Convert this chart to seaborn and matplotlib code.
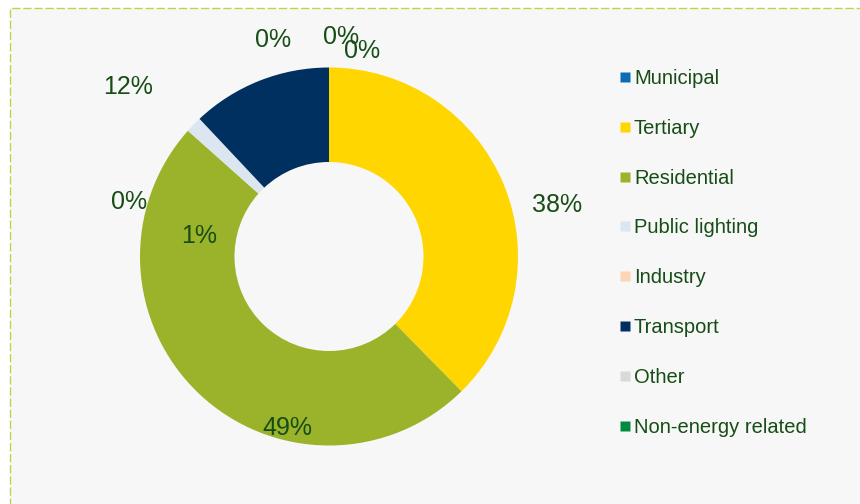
import matplotlib
matplotlib.use("Agg")
import matplotlib.pyplot as plt
from matplotlib.patches import Rectangle
from matplotlib.lines import Line2D
import seaborn as sns

categories = ["Municipal", "Tertiary", "Residential", "Public lighting",
              "Industry", "Transport", "Other", "Non-energy related"]
values = [0.0, 37.6, 48.9, 1.4, 0.0, 12.0, 0.0, 0.0]
colors = ["#0b6cb5", "#ffd600", "#9bb32b", "#dce6f1",
          "#fcd5b5", "#00305f", "#d9d9d9", "#008a3e"]

sns.set_theme(style="white")
plt.rcParams["font.family"] = ["Liberation Sans", "DejaVu Sans"]

TXT = "#164d16"
W, H = 860, 504
fig = plt.figure(figsize=(W / 100, H / 100), dpi=100, facecolor="white")

# background panel with dashed border
bg = Rectangle((10 / W, -0.1), 1.2, 1 - 8 / H + 0.1, transform=fig.transFigure,
               facecolor="#f7f7f7", edgecolor="#b5d945", linewidth=1.0,
               linestyle=(0, (6, 2)), zorder=-5)
fig.add_artist(bg)

R = 189.0
cx, cy = 329.0, 256.5
ax = fig.add_axes([0, 0, 1, 1], zorder=2)
ax.set_facecolor("none")
ax.patch.set_visible(False)

wedges, _ = ax.pie(values, colors=colors, startangle=90, counterclock=False,
                   radius=1.0, wedgeprops=dict(width=0.5, edgecolor="none"))
ax.set_aspect("auto")
ax.set_xlim(-cx / R, (W - cx) / R)
ax.set_ylim(-(H - cy) / R, cy / R)
ax.axis("off")

total = sum(values)
# label anchor positions (in radius units) approximating the reference layout
label_pos = [(0.175, 1.085), (1.206, 0.270), (-0.222, -0.905), (-0.688, 0.111),
             (-1.058, 0.286), (-1.063, 0.899), (-0.296, 1.148), (0.063, 1.159)]
for v, (lx, ly) in zip(values, label_pos):
    ax.text(lx, ly, f"{round(v / total * 100):.0f}%", ha="center", va="center",
            fontsize=18, color=TXT)

handles = [Line2D([], [], linestyle="none", marker="s", markersize=7.8,
                  markerfacecolor=c, markeredgecolor="none") for c in colors]
leg = ax.legend(handles, categories, loc="upper left",
                bbox_to_anchor=(619.5 / W, 1 - 69 / H), bbox_transform=fig.transFigure,
                frameon=False, fontsize=14.5, labelcolor=TXT,
                handlelength=0.5, handletextpad=0.22, labelspacing=1.53,
                borderpad=0, borderaxespad=0)

fig.savefig("out.png", dpi=100, facecolor="white")
